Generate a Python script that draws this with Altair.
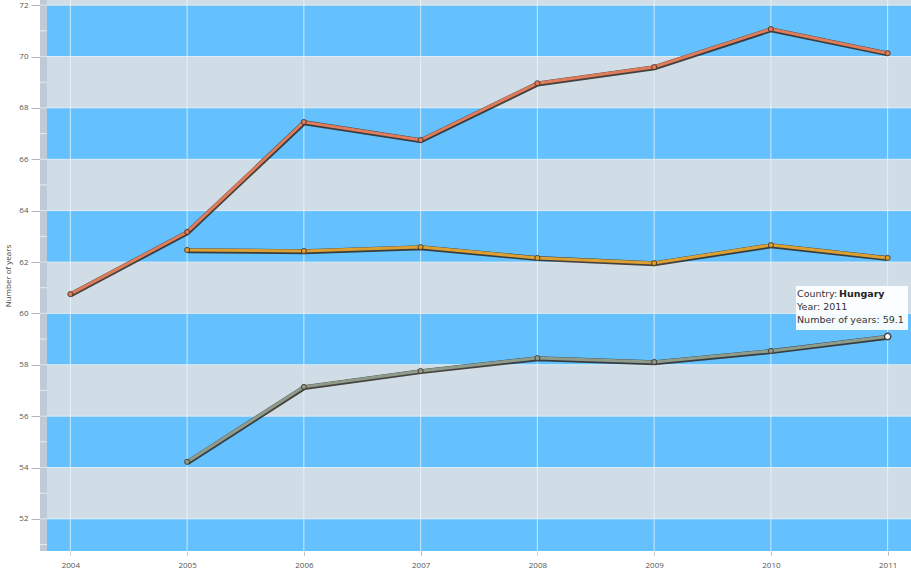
import altair as alt
import pandas as pd

years = [2004, 2005, 2006, 2007, 2008, 2009, 2010, 2011]
series_a_name = "Luxembourg"
series_a = [60.75, 63.17, 67.45, 66.75, 68.96, 69.59, 71.07, 70.13]
series_b_name = "Malta"
series_b = [None, 62.47, 62.43, 62.58, 62.16, 61.96, 62.66, 62.16]
series_c_name = "Hungary"
series_c = [None, 54.22, 57.14, 57.76, 58.26, 58.11, 58.54, 59.1]

y_ticks = [52, 54, 56, 58, 60, 62, 64, 66, 68, 70, 72]
y_minor = [51, 53, 55, 57, 59, 61, 63, 65, 67, 69, 71]
y_lo, y_hi = 50.75, 72.2
x_lo, x_hi = 2003.74, 2011.2

band_from = [y_lo, 52, 54, 56, 58, 60, 62, 64, 66, 68, 70, 72]
band_to = [52, 54, 56, 58, 60, 62, 64, 66, 68, 70, 72, y_hi]
band_kind = ["b", "g", "b", "g", "b", "g", "b", "g", "b", "g", "b", "g"]

W, H = 871, 551

rows = []
for name, vals in [(series_a_name, series_a), (series_b_name, series_b), (series_c_name, series_c)]:
    for yr, v in zip(years, vals):
        if v is not None:
            rows.append({"Country": name, "Year": yr, "Value": v})
df = pd.DataFrame(rows)

names = [series_a_name, series_b_name, series_c_name]
colors = ["#e07c5a", "#dca032", "#8f9b8b"]

xs = alt.Scale(domain=[x_lo, x_hi], nice=False, zero=False)
ys = alt.Scale(domain=[y_lo, y_hi], nice=False, zero=False)

bands = pd.DataFrame({"y": band_from, "y2": band_to, "k": band_kind})
y_axis = alt.Axis(values=y_ticks, title="Number of years", format="d")
band_blue = alt.Chart(bands).transform_filter("datum.k == 'b'").mark_rect(color="#64c1fd").encode(
    x=alt.value(7), x2=alt.value(W),
    y=alt.Y("y:Q", scale=ys, axis=y_axis), y2="y2:Q",
)
band_grey = alt.Chart(bands).transform_filter("datum.k == 'g'").mark_rect(color="#d0dde6").encode(
    x=alt.value(7), x2=alt.value(W),
    y=alt.Y("y:Q", scale=ys), y2="y2:Q",
)

strip = alt.Chart(pd.DataFrame({"a": [0]})).mark_rect(color="#bfc9d7").encode(
    x=alt.value(0), x2=alt.value(7), y=alt.value(0), y2=alt.value(H)
)

minor = alt.Chart(pd.DataFrame({"v": y_minor})).mark_rule(color="#e6edf4", strokeWidth=1).encode(
    x=alt.value(0), x2=alt.value(7), y=alt.Y("v:Q", scale=ys)
)
major = alt.Chart(pd.DataFrame({"v": y_ticks})).mark_rule(color="#e6f2fb", strokeWidth=1, opacity=0.7).encode(
    x=alt.value(0), x2=alt.value(W), y=alt.Y("v:Q", scale=ys)
)

vgrid = alt.Chart(pd.DataFrame({"Year": years})).mark_rule(color="#eef7ff", strokeWidth=1, opacity=0.75).encode(
    x=alt.X("Year:Q", scale=xs,
            axis=alt.Axis(values=years, format="d", title=None, grid=False)),
    y=alt.value(0), y2=alt.value(H + 3),
)

cscale = alt.Scale(domain=names, range=colors)

shadow = alt.Chart(df).mark_line(strokeWidth=5, color="#2e2620", opacity=0.85, yOffset=0.7, xOffset=0.3).encode(
    x=alt.X("Year:Q", scale=xs), y=alt.Y("Value:Q", scale=ys), detail="Country:N"
)
lines = alt.Chart(df).mark_line(strokeWidth=3).encode(
    x=alt.X("Year:Q", scale=xs), y=alt.Y("Value:Q", scale=ys),
    color=alt.Color("Country:N", scale=cscale, legend=None),
)
pts = alt.Chart(df).mark_point(filled=True, size=26, stroke="#3a2a20", strokeWidth=0.8, opacity=1).encode(
    x=alt.X("Year:Q", scale=xs), y=alt.Y("Value:Q", scale=ys),
    color=alt.Color("Country:N", scale=cscale, legend=None),
)

hov = df[(df["Country"] == series_c_name) & (df["Year"] == 2011)]
hover_pt = alt.Chart(hov).mark_point(filled=True, size=40, color="#ffffff", stroke="#444444", strokeWidth=1.5, opacity=1).encode(
    x=alt.X("Year:Q", scale=xs), y=alt.Y("Value:Q", scale=ys)
)

tip_box = alt.Chart(pd.DataFrame({"a": [0]})).mark_rect(color="#ffffff", opacity=0.93).encode(
    x=alt.value(756), x2=alt.value(868), y=alt.value(286), y2=alt.value(330)
)

def tip(txt, xv, yv, bold=False):
    return alt.Chart(pd.DataFrame({"t": [txt]})).mark_text(
        align="left", baseline="middle", fontSize=9.5, font="DejaVu Sans",
        fontWeight="bold" if bold else "normal", color="#222222" if bold else "#333333",
    ).encode(x=alt.value(xv), y=alt.value(yv), text="t:N")

tips = [
    tip("Country:", 757, 294),
    tip(series_c_name, 799, 294, bold=True),
    tip("Year: 2011", 757, 307),
    tip("Number of years: 59.1", 757, 320),
]

chart = alt.layer(
    band_blue, band_grey, strip, minor, major, vgrid, shadow, lines, pts, hover_pt, tip_box, *tips
).properties(
    width=W, height=H,
    autosize=alt.AutoSizeParams(type="none"),
    padding={"left": 40, "top": 0, "right": 0, "bottom": 23},
    background="#ffffff",
).configure_view(stroke=None).configure_axis(
    domain=False, labelColor="#555555", labelFont="Open Sans", labelFontSize=8,
    tickColor="#b5b5b5", titleFont="Open Sans", titleFontSize=8, titleFontWeight="normal",
    titleColor="#444444",
).configure_axisY(tickSize=9, labelPadding=3, titlePadding=6).configure_axisX(tickSize=4, labelPadding=6)

chart.save("out.html", embed_options={"renderer": "svg", "actions": False})
